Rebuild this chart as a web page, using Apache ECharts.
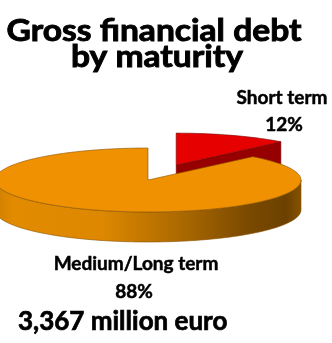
<!DOCTYPE html>
<html>
<head>
<meta charset="utf-8">
<script src="https://cdn.jsdelivr.net/npm/echarts@6/dist/echarts.min.js"></script>
<style>
  html, body { margin: 0; padding: 0; background: #fff; }
  #chart { width: 332px; height: 343px; }
</style>
</head>
<body>
<div id="chart"></div>
<script>
// Debt split by maturity (percent of gross financial debt)
const categories = ['Short term', 'Medium/Long term'];
const shares = [12, 88];
const titleLines = ['Gross financial debt', 'by maturity'];
const totalText = '3,367 million euro';

// Drawing settings for the tilted pie
const FONT = 'Lato';
const pie = { cx: 148, cy: 180, rx: 153, ry: 32, depth: 30, startAngle: 90 };
const explode = [0.5, 0];
const topColors = ['#e60000', '#ef9100'];
const sideColors = [
  '#960000',
  { type: 'linear', x: 0, y: 0, x2: 1, y2: 0, colorStops: [
    { offset: 0, color: '#cf7e00' },
    { offset: 0.06, color: '#e28b00' },
    { offset: 0.35, color: '#dd8800' },
    { offset: 0.6, color: '#ad6a00' },
    { offset: 0.82, color: '#7c4a00' },
    { offset: 0.95, color: '#6c4100' },
    { offset: 1, color: '#855300' }
  ] }
];
const edgeColor = ['#7a0000', '#8a5200'];

const total = shares.reduce((a, b) => a + b, 0);
const rad = d => d * Math.PI / 180;

function ellipsePoint(ox, oy, a, drop) {
  return [ox + pie.rx * Math.cos(rad(a)), oy - pie.ry * Math.sin(rad(a)) + (drop || 0)];
}

function arcPoints(ox, oy, a1, a2, drop) {
  const pts = [];
  const n = Math.max(2, Math.ceil(Math.abs(a2 - a1) / 2));
  for (let k = 0; k <= n; k++) {
    pts.push(ellipsePoint(ox, oy, a1 + (a2 - a1) * k / n, drop));
  }
  return pts;
}

function renderSlice(params, api) {
  const i = params.dataIndex;
  const value = api.value(0);
  let before = 0;
  for (let k = 0; k < i; k++) before += shares[k];
  // slices run clockwise from the top
  const a1 = pie.startAngle - before / total * 360;
  const a2 = a1 - value / total * 360;
  const mid = (a1 + a2) / 2;
  const e = explode[i] || 0;
  const ox = pie.cx + e * pie.rx * Math.cos(rad(mid));
  const oy = pie.cy - e * pie.ry * Math.sin(rad(mid));
  const d = pie.depth;
  const children = [];

  // front wall: part of the arc lying in the lower half of the ellipse
  for (let base = -720; base <= 360; base += 360) {
    const lo = Math.max(a2, base - 180), hi = Math.min(a1, base);
    if (hi > lo) {
      const top = arcPoints(ox, oy, hi, lo, 0);
      const bottom = arcPoints(ox, oy, lo, hi, d);
      children.push({
        type: 'polygon',
        shape: { points: top.concat(bottom) },
        style: { fill: sideColors[i], stroke: edgeColor[i], lineWidth: 0.6 }
      });
    }
  }

  // radial cut faces whose outward side turns toward the viewer
  [[a1, a1 + 90], [a2, a2 - 90]].forEach(([a, normal]) => {
    if (Math.sin(rad(normal)) < -0.01) {
      const p = ellipsePoint(ox, oy, a, 0);
      children.push({
        type: 'polygon',
        shape: { points: [[ox, oy], p, [p[0], p[1] + d], [ox, oy + d]] },
        style: { fill: typeof sideColors[i] === 'string' ? sideColors[i] : '#8a5300', stroke: edgeColor[i], lineWidth: 0.5 }
      });
    }
  });

  // top face
  children.push({
    type: 'polygon',
    shape: { points: [[ox, oy]].concat(arcPoints(ox, oy, a1, a2, 0)) },
    style: { fill: topColors[i], stroke: edgeColor[i], lineWidth: 0.6 }
  });

  return { type: 'group', children };
}

const chart = echarts.init(document.getElementById('chart'), null, { renderer: 'canvas' });

function label(text, x, y, size, opts) {
  opts = opts || {};
  return {
    type: 'text', x, y,
    scaleX: opts.scaleX || 1,
    style: {
      text, fontFamily: FONT, fontWeight: 'bold', fontSize: size, fill: '#000',
      stroke: '#000', lineWidth: opts.weight || 0.5,
      align: opts.align || 'center', verticalAlign: 'middle'
    }
  };
}

chart.setOption({
  animation: false,
  series: [{
    type: 'custom',
    coordinateSystem: 'none',
    renderItem: renderSlice,
    data: shares.map((v, i) => ({ name: categories[i], value: [v] }))
  }],
  graphic: [
    label(titleLines[0], 154, 31, 30, { scaleX: 1.12, weight: 0.9 }),
    label(titleLines[1], 157, 57, 30, { scaleX: 1.12, weight: 0.9 }),
    label(categories[0], 282, 98, 19),
    label(shares[0] + '%', 284, 125, 19),
    label(categories[1], 136, 264, 19),
    label(shares[1] + '%', 134, 292, 19),
    label(totalText, 18, 322, 26, { align: 'left', weight: 0.7 })
  ]
});
</script>
</body>
</html>
